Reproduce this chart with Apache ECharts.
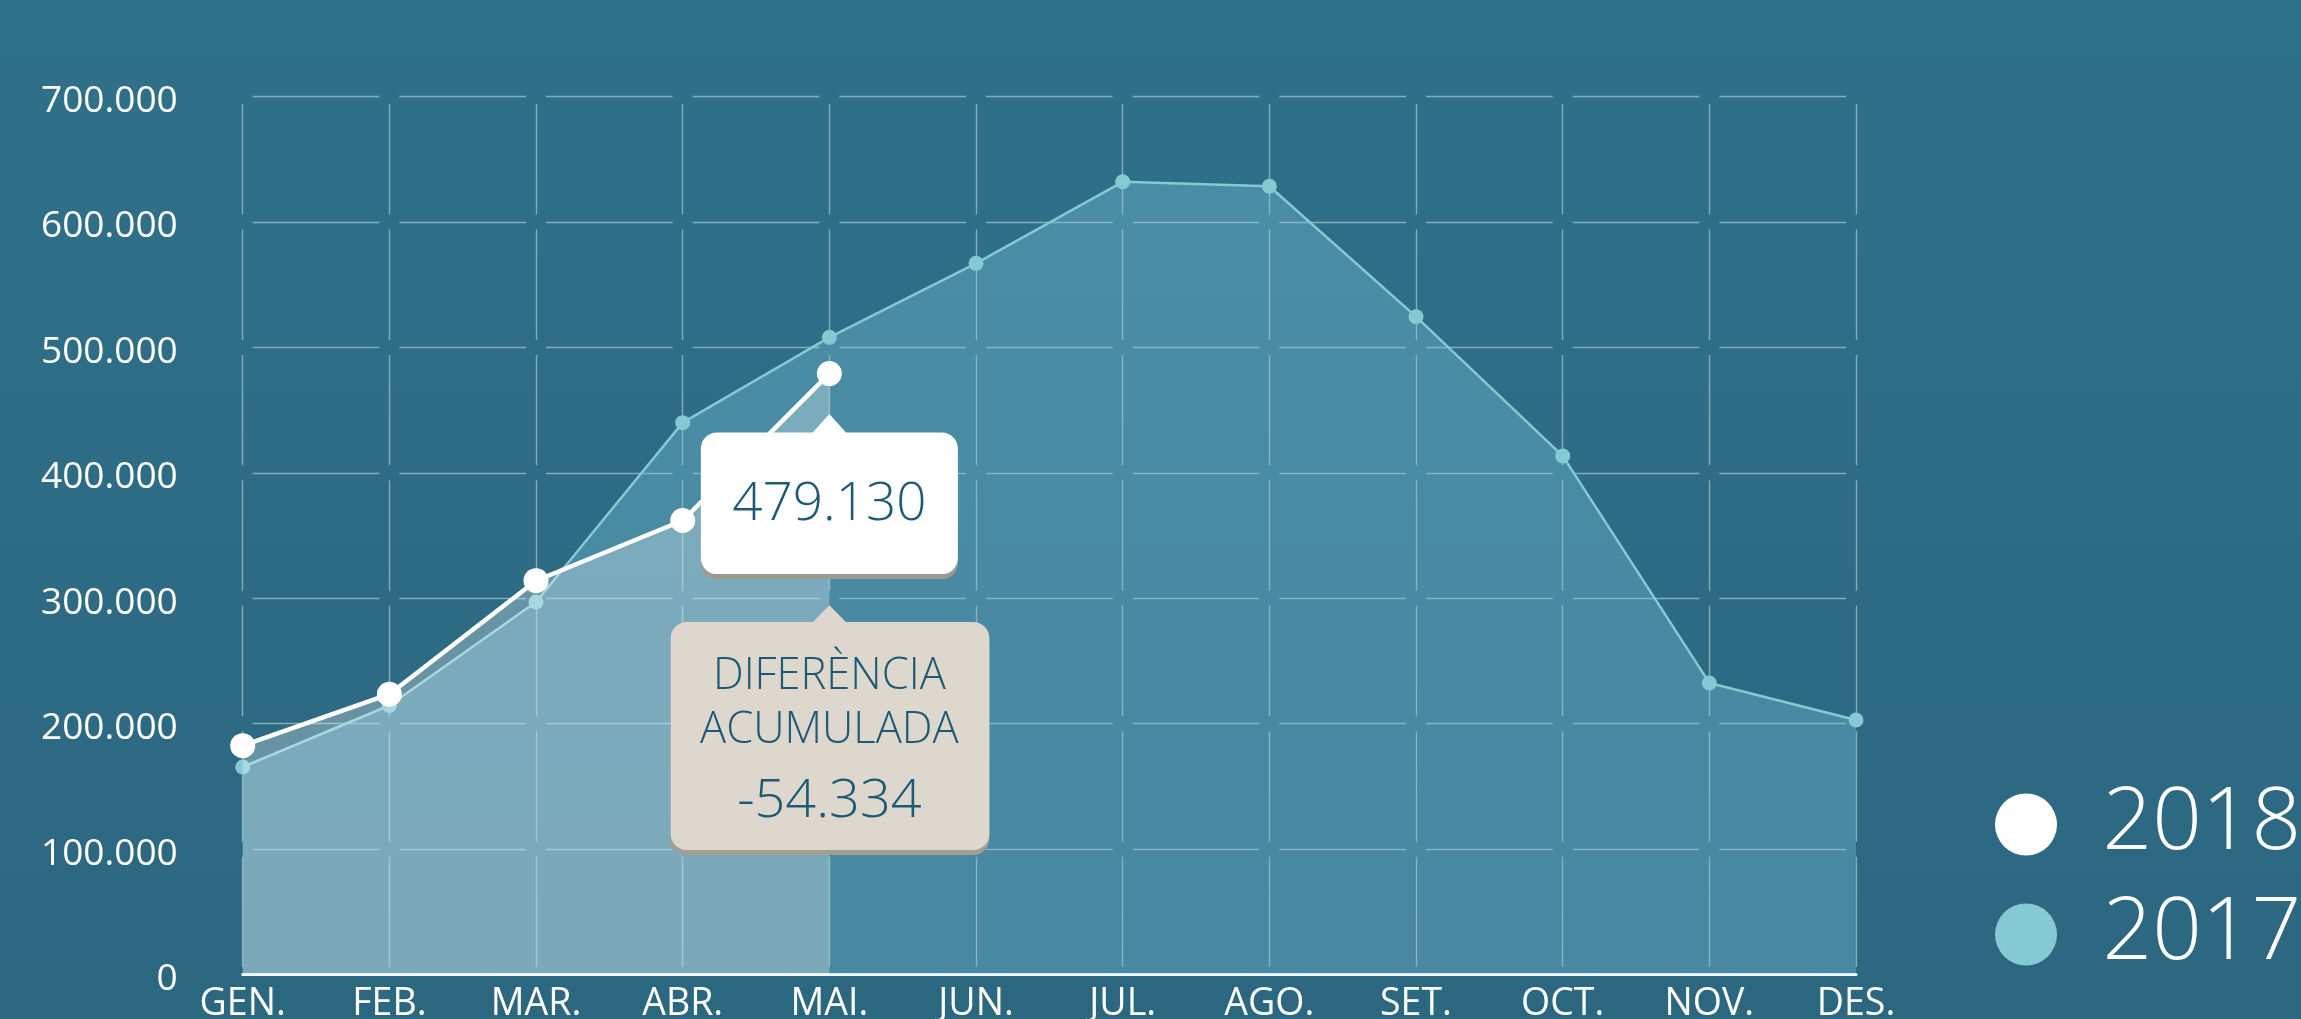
<!DOCTYPE html>
<html><head><meta charset="utf-8">
<script src="https://cdn.jsdelivr.net/npm/echarts@6/dist/echarts.min.js"></script>
<style>html,body{margin:0;padding:0;overflow:hidden;background:#2d6c84}#c{width:2301px;height:1019px}</style>
</head><body><div id="c"></div>
<script>
// ---- data ----
const months = ['GEN.', 'FEB.', 'MAR.', 'ABR.', 'MAI.', 'JUN.', 'JUL.', 'AGO.', 'SET.', 'OCT.', 'NOV.', 'DES.'];
const values2017 = [165500, 214500, 297000, 440000, 508000, 567000, 632000, 628500, 524500, 413500, 232500, 203000];
const values2018 = [182500, 223500, 314000, 362000, 479130];
const seriesNames = ['2018', '2017'];
const diffLabel = ['DIFERÈNCIA', 'ACUMULADA'];
const diffAccum = -54334;
const yMin = 0, yMax = 700000, yStep = 100000;

function fmt(v) {
  const s = String(Math.abs(Math.round(v))).replace(/\B(?=(\d{3})+(?!\d))/g, '.');
  return (v < 0 ? '-' : '') + s;
}

const FONT = "'Open Sans', 'Noto Sans', sans-serif";
const TXT = '#1d5a74';
const chart = echarts.init(document.getElementById('c'), null, { renderer: 'canvas' });

const colW = 146.67, rowH = 125.44;
chart.setOption({
  animation: false,
  backgroundColor: {
    type: 'linear', x: 0, y: 0, x2: 0, y2: 1,
    colorStops: [{ offset: 0, color: '#2f7189' }, { offset: 1, color: '#2c6780' }]
  },
  grid: { left: 242.7, right: 445, top: 96.5, bottom: 44.4, containLabel: false, outerBoundsMode: 'none' },
  legend: {
    orient: 'vertical', left: 1995, top: 781, padding: 0,
    icon: 'circle', itemWidth: 143, itemHeight: 62, itemGap: 23,
    data: seriesNames,
    itemStyle: { borderWidth: 0 },
    textStyle: { color: '#ffffff', fontSize: 87, fontWeight: 300, fontFamily: FONT, lineHeight: 62 }
  },
  xAxis: {
    type: 'category', data: months, boundaryGap: false,
    axisLine: { show: true, lineStyle: { color: '#ffffff', width: 3 } },
    axisTick: { show: false },
    axisLabel: { color: '#ffffff', fontSize: 37.5, fontFamily: FONT, margin: 11, interval: 0 },
    splitLine: {
      show: true, interval: 0,
      lineStyle: { color: 'rgba(200,225,232,0.55)', width: 1.4, type: [rowH - 15, 15], dashOffset: rowH - 15 + 7.5 }
    }
  },
  yAxis: {
    type: 'value', min: yMin, max: yMax, interval: yStep,
    axisLine: { show: false }, axisTick: { show: false },
    axisLabel: { color: '#ffffff', fontSize: 37, fontFamily: FONT, margin: 65, formatter: fmt, verticalAlign: 'top', lineHeight: 10 },
    splitLine: {
      show: true,
      lineStyle: { color: 'rgba(200,225,232,0.55)', width: 1.4, type: [colW - 20, 20], dashOffset: colW - 20 + 10 }
    }
  },
  series: [
    {
      name: '2017', type: 'line', data: values2017,
      symbol: 'circle', symbolSize: 15, showSymbol: true,
      itemStyle: { color: '#85c9d3' },
      lineStyle: { color: '#85c9d3', width: 2.5 },
      areaStyle: { color: 'rgba(130,204,226,0.47)' },
      z: 2
    },
    {
      name: '2018', type: 'line', data: values2018,
      symbol: 'circle', symbolSize: 25, showSymbol: true,
      itemStyle: { color: '#ffffff' },
      lineStyle: { color: '#ffffff', width: 4.5 },
      areaStyle: { color: 'rgba(255,255,255,0.4)' },
      z: 3
    }
  ]
});

// ---- callouts anchored to the last 2018 point ----
const last = values2018.length - 1;
const p = chart.convertToPixel({ xAxisIndex: 0, yAxisIndex: 0 }, [months[last], values2018[last]]);
const px = p[0], py = p[1];
const wb = { x: px - 128.5, y: py + 59, w: 257, h: 141.5 };
const bb = { x: px - 158.6, y: py + 248.4, w: 318.6, h: 228 };
const Z = 100;
chart.setOption({
  graphic: { elements: [
    { type: 'rect', z: Z, shape: { x: wb.x, y: wb.y + 5, width: wb.w, height: wb.h, r: 16 }, style: { fill: '#9f9a90' } },
    { type: 'rect', z: Z, shape: { x: wb.x, y: wb.y, width: wb.w, height: wb.h, r: 16 }, style: { fill: '#ffffff' } },
    { type: 'polygon', z: Z, shape: { points: [[px - 17.5, wb.y + 1], [px, py + 40.5], [px + 17.5, wb.y + 1]] }, style: { fill: '#ffffff' } },
    { type: 'text', z: Z + 1, x: px, y: wb.y + wb.h / 2 + 2, style: { text: fmt(values2018[last]), fill: TXT, font: '300 53px ' + FONT, align: 'center', verticalAlign: 'middle' } },

    { type: 'rect', z: Z, shape: { x: bb.x, y: bb.y + 5, width: bb.w, height: bb.h, r: 16 }, style: { fill: '#a39e93' } },
    { type: 'rect', z: Z, shape: { x: bb.x, y: bb.y, width: bb.w, height: bb.h, r: 16 }, style: { fill: '#ded7cd' } },
    { type: 'polygon', z: Z, shape: { points: [[px - 17.5, bb.y + 1], [px, py + 231.8], [px + 17.5, bb.y + 1]] }, style: { fill: '#ded7cd' } },
    { type: 'text', z: Z + 1, x: px, y: py + 303.5, style: { text: diffLabel[0], fill: TXT, font: '300 43.5px ' + FONT, align: 'center', verticalAlign: 'middle' } },
    { type: 'text', z: Z + 1, x: px, y: py + 357.5, style: { text: diffLabel[1], fill: TXT, font: '300 43.5px ' + FONT, align: 'center', verticalAlign: 'middle' } },
    { type: 'text', z: Z + 1, x: px, y: py + 428, style: { text: fmt(diffAccum), fill: TXT, font: '300 54px ' + FONT, align: 'center', verticalAlign: 'middle' } }
  ] }
});
</script>
</body></html>
